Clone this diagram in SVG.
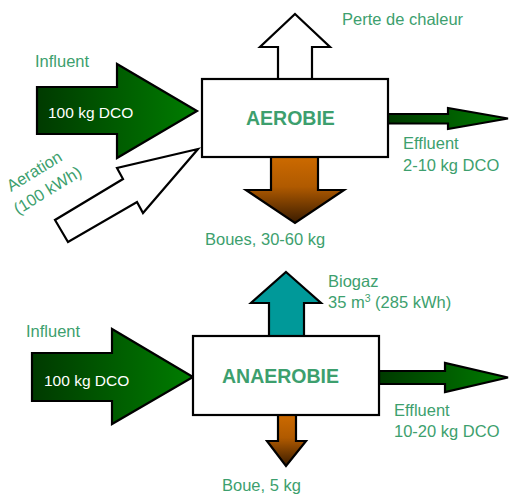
<svg xmlns="http://www.w3.org/2000/svg" width="510" height="496" viewBox="0 0 510 496">
<defs>
<linearGradient id="gGreen" x1="0" y1="0" x2="1" y2="0">
<stop offset="0" stop-color="#003a00"/>
<stop offset="1" stop-color="#007d00"/>
</linearGradient>
<linearGradient id="gBrown" x1="0" y1="0" x2="0" y2="1">
<stop offset="0" stop-color="#cc6a00"/>
<stop offset="0.45" stop-color="#b05a00"/>
<stop offset="1" stop-color="#3a1c00"/>
</linearGradient>
<style>
.box{fill:#fff;stroke:#000;stroke-width:2.2}
.arr{stroke:#000;stroke-width:2.2;stroke-linejoin:miter}
.lbl{font-family:"Liberation Sans",Arial,sans-serif;font-size:16.5px;fill:#3d9f6e}
.wht{font-family:"Liberation Sans",Arial,sans-serif;font-size:15.5px;fill:#fff}
.ttl{font-family:"Liberation Sans",Arial,sans-serif;font-size:19.5px;font-weight:bold;fill:#3d9f6e}
</style>
</defs>
<rect width="510" height="496" fill="#fff"/>
<g id="connectors">
<polygon class="arr" fill="url(#gGreen)" points="37,87 117,87 117,64 197,111 117,158 117,134 37,134"/>
<polygon class="arr" fill="#fff" points="198,149 117,168 123,179 55,220 68,242 137,202 143,213"/>
<polygon class="arr" fill="#fff" points="295,14 330,47 312,47 312,79 278,79 278,47 260,47"/>
<polygon class="arr" fill="url(#gGreen)" points="388,114 448,114 448,108 508,118.5 448,129 448,123.5 388,123.5"/>
<polygon class="arr" fill="url(#gBrown)" points="271,157 318,157 318,190 344,190 295,223 246,190 271,190"/>
<polygon class="arr" fill="url(#gGreen)" points="32,353 112,353 112,329 193,377 112,424 112,401 32,401"/>
<polygon class="arr" fill="#009999" points="286,272 321,303 304,303 304,336 269,336 269,303 251,303"/>
<polygon class="arr" fill="url(#gGreen)" points="379,371 445,371 445,363 508,377.5 445,392 445,384 379,384"/>
<polygon class="arr" fill="url(#gBrown)" points="278,415 296,415 296,441 306,441 286,466 267,441 278,441"/>
</g>
<g id="aerobie">
<rect class="box" x="202" y="79" width="186" height="78"/>
<text class="ttl" x="246" y="125">AEROBIE</text>
</g>
<g id="anaerobie">
<rect class="box" x="193" y="336" width="186" height="79"/>
<text class="ttl" x="222" y="383">ANAEROBIE</text>
</g>
<g id="labels">
<text class="lbl" x="35" y="67">Influent</text>
<text class="wht" x="48" y="118">100 kg DCO</text>
<text class="lbl" transform="translate(11,192) rotate(-31.5)">Aeration</text>
<text class="lbl" transform="translate(18,215) rotate(-31.5)">(100 kWh)</text>
<text class="lbl" x="342" y="25">Perte de chaleur</text>
<text class="lbl" x="403" y="149">Effluent</text>
<text class="lbl" x="403" y="171">2-10 kg DCO</text>
<text class="lbl" x="205" y="245">Boues, 30-60 kg</text>
<text class="lbl" x="26" y="337">Influent</text>
<text class="wht" x="44" y="386">100 kg DCO</text>
<text class="lbl" x="328" y="287">Biogaz</text>
<text class="lbl" x="328" y="308">35 m<tspan font-size="10.5" dy="-6">3</tspan><tspan dy="6"> (285 kWh)</tspan></text>
<text class="lbl" x="394" y="416">Effluent</text>
<text class="lbl" x="394" y="437">10-20 kg DCO</text>
<text class="lbl" x="222" y="491">Boue, 5 kg</text>
</g>
</svg>
